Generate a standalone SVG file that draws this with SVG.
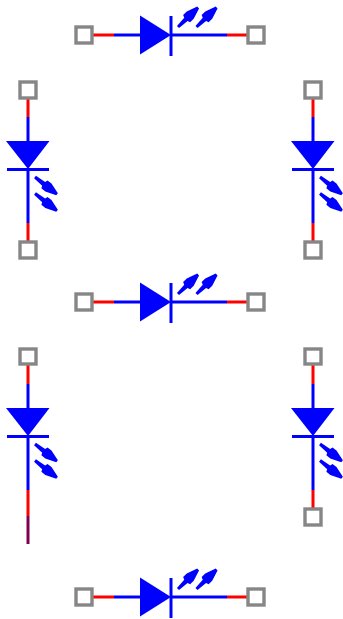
<svg xmlns="http://www.w3.org/2000/svg" width="343" height="619" viewBox="0 0 343 619">
<style>
.b{stroke:#00f;stroke-width:3;fill:none}
.r{stroke:#f00;stroke-width:3;fill:none}
.p{stroke:#800050;stroke-width:3;fill:none}
.t{fill:#fff;stroke:#868686;stroke-width:3.400}
.f{fill:#00f;stroke:none}
</style>
<defs>
<path id="arrow" class="f" d="M0 -1.500L11 -2.400L12 -5L17 -5L28 -1.300L28 1.300L17 5L12 5L11 2.400L0 1.500Z"/>
<g id="ledH">
<path class="f" d="M-31 -19.500L0 0L-31 19.500Z"/>
<path class="b" d="M0 -19V21"/>
<use href="#arrow" transform="translate(7,-8) rotate(-44)"/>
<use href="#arrow" transform="translate(25.500,-8) rotate(-44)"/>
</g>
<g id="ledV">
<path class="f" d="M-22 -28H21.500L0 0Z"/>
<path class="b" d="M-21 0.500H21"/>
<use href="#arrow" transform="translate(7,8) rotate(38)"/>
<use href="#arrow" transform="translate(7,24.500) rotate(38)"/>
</g>
</defs>
<g id="connectors">
<path class="r" d="M93 35H114M227 35H247"/><path class="b" d="M114 35H141M171 35H227"/>
<path class="r" d="M93 302H114M227 302H247"/><path class="b" d="M114 302H141M171 302H227"/>
<path class="r" d="M93 597H114M227 597H247"/><path class="b" d="M114 597H141M171 597H227"/>
<path class="r" d="M28 98V117M28 223V241"/><path class="b" d="M28 117V142M28 169V223"/>
<path class="r" d="M313 98V117M313 223V241"/><path class="b" d="M313 117V142M313 169V223"/>
<path class="r" d="M28 364V384M28 490V516"/><path class="b" d="M28 384V409M28 436V490"/><path class="p" d="M28 516V544"/>
<path class="r" d="M313 364V384M313 490V508"/><path class="b" d="M313 384V409M313 436V490"/>
</g>
<g id="led-top"><use href="#ledH" transform="translate(171,35)"/></g>
<g id="led-middle"><use href="#ledH" transform="translate(171,302)"/></g>
<g id="led-bottom"><use href="#ledH" transform="translate(171,597)"/></g>
<g id="led-upper-left"><use href="#ledV" transform="translate(28,169)"/></g>
<g id="led-upper-right"><use href="#ledV" transform="translate(313,169)"/></g>
<g id="led-lower-left"><use href="#ledV" transform="translate(28,436)"/></g>
<g id="led-lower-right"><use href="#ledV" transform="translate(313,436)"/></g>
<g id="terminals">
<rect class="t" x="76" y="27" width="16" height="16"/>
<rect class="t" x="248" y="27" width="16" height="16"/>
<rect class="t" x="76" y="294" width="16" height="16"/>
<rect class="t" x="248" y="294" width="16" height="16"/>
<rect class="t" x="76" y="589" width="16" height="16"/>
<rect class="t" x="248" y="589" width="16" height="16"/>
<rect class="t" x="20" y="82" width="16" height="16"/>
<rect class="t" x="305" y="82" width="16" height="16"/>
<rect class="t" x="20" y="242" width="16" height="16"/>
<rect class="t" x="305" y="242" width="16" height="16"/>
<rect class="t" x="20" y="349" width="16" height="15"/>
<rect class="t" x="305" y="349" width="16" height="15"/>
<rect class="t" x="305" y="509" width="16" height="16"/>
</g>
</svg>
